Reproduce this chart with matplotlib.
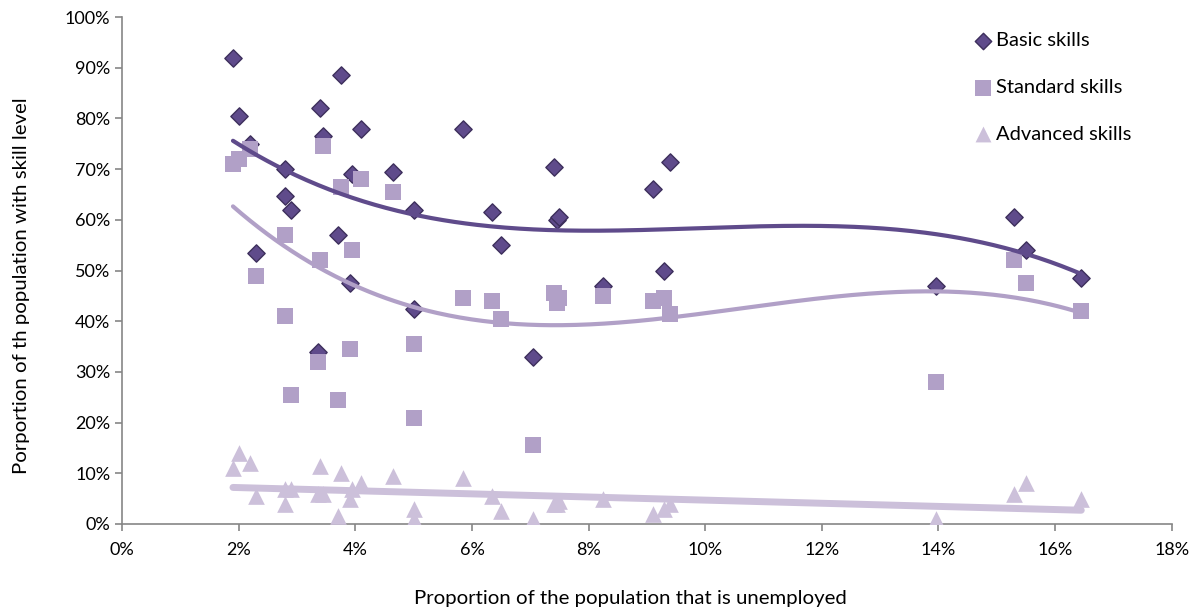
import numpy as np
import matplotlib
matplotlib.use("Agg")
import matplotlib.pyplot as plt
from matplotlib.ticker import PercentFormatter

# Unemployment rate (x) and skill level shares (y), in percent
unemployed = [1.9, 2.0, 2.2, 2.3, 2.8, 2.8, 2.9, 3.35, 3.4, 3.45, 3.7, 3.75,
              3.9, 3.95, 4.1, 4.65, 5.0, 5.0, 5.85, 6.35, 6.5, 7.05, 7.4,
              7.45, 7.5, 8.25, 9.1, 9.3, 9.4, 13.95, 15.3, 15.5, 16.45]
basic = [92.0, 80.5, 75.0, 53.5, 70.0, 64.8, 62.0, 34.0, 82.0, 76.5, 57.0, 88.5,
         47.5, 69.0, 78.0, 69.5, 62.0, 42.5, 78.0, 61.5, 55.0, 33.0, 70.5,
         60.0, 60.5, 47.0, 66.0, 50.0, 71.5, 47.0, 60.5, 54.0, 48.5]
standard = [71.0, 72.0, 74.0, 49.0, 57.0, 41.0, 25.5, 32.0, 52.0, 74.5, 24.5, 66.5,
            34.5, 54.0, 68.0, 65.5, 35.5, 21.0, 44.5, 44.0, 40.5, 15.5, 45.5,
            43.5, 44.5, 45.0, 44.0, 44.5, 41.5, 28.0, 52.0, 47.5, 42.0]
advanced = [11.0, 14.0, 12.0, 5.5, 7.0, 4.0, 7.0, 6.0, 11.5, 6.0, 1.5, 10.0,
            5.0, 7.0, 8.0, 9.5, 3.0, 1.0, 9.0, 5.5, 2.5, 1.0, 4.0,
            4.0, 4.5, 5.0, 2.0, 3.0, 4.0, 1.0, 6.0, 8.0, 5.0]

series_names = ["Basic skills", "Standard skills", "Advanced skills"]

c_basic = "#5F4B8B"
c_basic_edge = "#3D2F5C"
c_std = "#B1A0C7"
c_adv = "#CCC0DA"

plt.rcParams['font.family'] = ['Lato', 'DejaVu Sans']

fig = plt.figure(figsize=(11.98, 6.10), dpi=100)
ax = fig.add_axes([0.102, 0.141, 0.876, 0.831])

x = np.array(unemployed)

# trendlines
xs = np.linspace(x.min(), x.max(), 300)
pb = np.polyfit(x, basic, 3)
ps = np.polyfit(x, standard, 3)
pa = np.polyfit(x, advanced, 1)

ax.scatter(x, basic, marker="D", s=8.8**2, color=c_basic, edgecolors=c_basic_edge,
           linewidths=1.0, zorder=2, label=series_names[0])
ax.scatter(x, standard, marker="s", s=11.5**2, color=c_std, linewidths=0,
           zorder=3, label=series_names[1])
ax.scatter(x, advanced, marker="^", s=12**2, color=c_adv, linewidths=0,
           zorder=4, label=series_names[2])

ax.plot(xs, np.polyval(pb, xs), color=c_basic, lw=3, zorder=5, solid_capstyle="round")
ax.plot(xs, np.polyval(ps, xs), color=c_std, lw=3, zorder=5, solid_capstyle="round")
ax.plot(xs, np.polyval(pa, xs), color=c_adv, lw=5, zorder=5, solid_capstyle="round")

ax.set_xlim(0, 18)
ax.set_ylim(0, 100)
ax.set_xticks(np.arange(0, 19, 2))
ax.set_yticks(np.arange(0, 101, 10))
ax.xaxis.set_major_formatter(PercentFormatter(decimals=0))
ax.yaxis.set_major_formatter(PercentFormatter(decimals=0))

for s in ["top", "right"]:
    ax.spines[s].set_visible(False)
for s in ["left", "bottom"]:
    ax.spines[s].set_color("#868686")
    ax.spines[s].set_linewidth(1.2)
ax.tick_params(axis="both", colors="#868686", length=5, width=1.2,
               labelcolor="black", labelsize=13, direction="out")
ax.tick_params(axis="x", pad=8)

ax.set_xlabel("Proportion of the population that is unemployed", fontsize=14.7,
              labelpad=23)
ax.set_ylabel("Porportion of th population with skill level", fontsize=14.7,
              labelpad=25)
ax.xaxis.label.set_x(0.484)
ax.yaxis.label.set_y(0.471)

leg = ax.legend(loc="upper left", frameon=False, fontsize=14.5,
                labelspacing=1.47, handletextpad=0.15, markerscale=0.95,
                handlelength=1.0, borderaxespad=0)
leg.set_bbox_to_anchor((965 / 1198, 1 - 24 / 610), transform=fig.transFigure)

fig.savefig("out.png", dpi=100)
